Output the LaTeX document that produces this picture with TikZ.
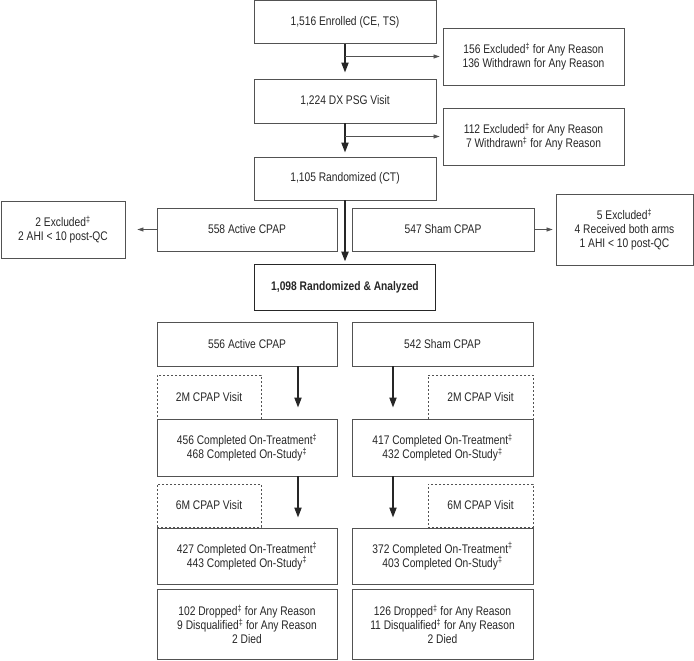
\documentclass[tikz,border=0pt]{standalone}
\usepackage{fontspec}
\setmainfont[FakeStretch=0.82]{Liberation Sans}
\usetikzlibrary{arrows.meta,calc}

\definecolor{boxgray}{gray}{0.32}
\definecolor{txtgray}{gray}{0.15}
\newcommand{\dg}{\textsuperscript{\ddag}}

\begin{document}
\begin{tikzpicture}[x=1pt,y=-1pt,
  font=\fontsize{12.5}{14}\selectfont,
  box/.style={draw=boxgray, line width=0.8pt, text=txtgray, align=center, inner sep=0pt},
  visitbox/.style={box, dash pattern=on 2pt off 2pt},
  mainarrow/.style={draw=black!85, line width=1.8pt, -{Triangle[length=10pt,width=7pt]}},
  sidearrow/.style={draw=boxgray, line width=0.6pt, -{Triangle[length=6pt,width=4pt]}}]

\useasboundingbox (0,0) rectangle (694,661);

% screening
\node[box, minimum width=182, minimum height=43] (enr) at (345,22) {1,516 Enrolled (CE, TS)};
\node[box, minimum width=181, minimum height=57] (exc1) at (533.5,56.5) {156 Excluded\dg{} for Any Reason\\136 Withdrawn for Any Reason};
\node[box, minimum width=182, minimum height=44] (psg) at (345,101) {1,224 DX PSG Visit};
\node[box, minimum width=181, minimum height=57] (exc2) at (533.5,136.5) {112 Excluded\dg{} for Any Reason\\7 Withdrawn\dg{} for Any Reason};
\node[box, minimum width=182, minimum height=43] (rand) at (345,178.5) {1,105 Randomized (CT)};

% randomization
\node[box, minimum width=180, minimum height=43] (act) at (247,229.5) {558 Active CPAP};
\node[box, minimum width=182, minimum height=43] (sham) at (443,229.5) {547 Sham CPAP};
\node[box, minimum width=124, minimum height=57] (excL) at (63,229.5) {2 Excluded\dg\\2 AHI < 10 post-QC};
\node[box, minimum width=137, minimum height=71] (excR) at (624.5,229.5) {5 Excluded\dg\\4 Received both arms\\1 AHI < 10 post-QC};
\node[box, draw=black!85, line width=1.8pt, minimum width=181, minimum height=46] (anal) at (345,287.5) {\bfseries 1,098 Randomized \& Analyzed};

% follow-up
\node[box, minimum width=180, minimum height=44] (act2) at (247,344) {556 Active CPAP};
\node[box, minimum width=181, minimum height=44] (sham2) at (442.5,344) {542 Sham CPAP};
\node[visitbox, minimum width=104, minimum height=44] (v2L) at (209,397) {2M CPAP Visit};
\node[visitbox, minimum width=105, minimum height=44] (v2R) at (480.5,397) {2M CPAP Visit};
\node[box, minimum width=180, minimum height=57] (c2L) at (247,447.5) {456 Completed On-Treatment\dg\\468 Completed On-Study\dg};
\node[box, minimum width=181, minimum height=57] (c2R) at (442.5,447.5) {417 Completed On-Treatment\dg\\432 Completed On-Study\dg};
\node[visitbox, minimum width=104, minimum height=43] (v6L) at (209,505.5) {6M CPAP Visit};
\node[visitbox, minimum width=105, minimum height=43] (v6R) at (480.5,505.5) {6M CPAP Visit};
\node[box, minimum width=180, minimum height=56] (c6L) at (247,556) {427 Completed On-Treatment\dg\\443 Completed On-Study\dg};
\node[box, minimum width=181, minimum height=56] (c6R) at (442.5,556) {372 Completed On-Treatment\dg\\403 Completed On-Study\dg};
\node[box, minimum width=180, minimum height=70] (dropL) at (247,624.5) {102 Dropped\dg{} for Any Reason\\9 Disqualified\dg{} for Any Reason\\2 Died};
\node[box, minimum width=181, minimum height=70] (dropR) at (442.5,624.5) {126 Dropped\dg{} for Any Reason\\11 Disqualified\dg{} for Any Reason\\2 Died};

\coordinate (b1) at (enr.south |- exc1.west);
\coordinate (b2) at (psg.south |- exc2.west);

\draw[mainarrow, shorten >=6pt] (enr) -- (psg);
\draw[mainarrow, shorten >=4pt] (psg) -- (rand);
\draw[sidearrow, shorten >=3pt] (b1) -- (exc1.west);
\draw[sidearrow, shorten >=3pt] (b2) -- (exc2.west);
\draw[mainarrow, line width=2.2pt, shorten >=2pt] (rand) -- (anal);
\draw[sidearrow, shorten >=12pt] (act.west) -- (excL.east);
\draw[sidearrow, shorten >=3pt] (sham.east) -- (excR.west);

\draw[mainarrow, shorten >=11pt] ([xshift=51pt]act2.south) -- ([xshift=51pt]c2L.north);
\draw[mainarrow, shorten >=11pt] ([xshift=-49.5pt]sham2.south) -- ([xshift=-49.5pt]c2R.north);
\draw[mainarrow, shorten >=10pt] ([xshift=51pt]c2L.south) -- ([xshift=51pt]c6L.north);
\draw[mainarrow, shorten >=10pt] ([xshift=-49.5pt]c2R.south) -- ([xshift=-49.5pt]c6R.north);

\end{tikzpicture}
\end{document}
